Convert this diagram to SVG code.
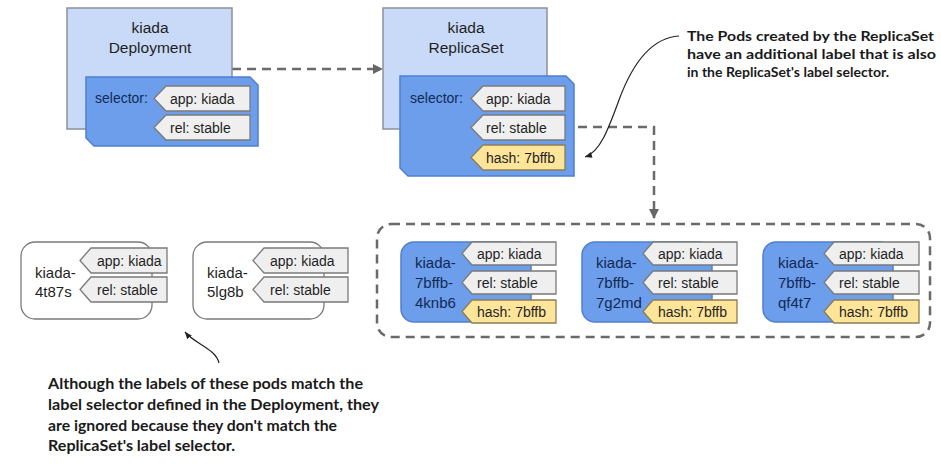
<svg xmlns="http://www.w3.org/2000/svg" width="941" height="464" viewBox="0 0 941 464">
<defs>
<marker id="ah" markerWidth="10" markerHeight="10" refX="9" refY="5" orient="auto" markerUnits="userSpaceOnUse"><path d="M0,0 L10,5 L0,10 Z" fill="#666"/></marker>
<marker id="sa" markerWidth="8" markerHeight="8" refX="7" refY="4" orient="auto" markerUnits="userSpaceOnUse"><path d="M0,1 L7,4 L0,7 Z" fill="#222"/></marker>
<style>
.obj{fill:#c9daf8;stroke:#8c9099;stroke-width:1.5}
.sel{fill:#6d9eeb;stroke:#4f7fcf;stroke-width:1.5}
.tag{fill:#efefef;stroke:#7a7a7a;stroke-width:1.3}
.hash{fill:#ffe599;stroke:#8a7d55;stroke-width:1.3}
.pod{fill:#6d9eeb;stroke:#4f7fcf;stroke-width:1.5}
.wpod{fill:#fff;stroke:#7a7a7a;stroke-width:1.3}
.t{font-family:"Liberation Sans",Arial,sans-serif;font-size:14px;fill:#1f1f1f}
.title{font-family:"Liberation Sans",Arial,sans-serif;font-size:15.5px;fill:#1f1f1f;text-anchor:middle}
.st{font-family:"Liberation Sans",Arial,sans-serif;font-size:14px;fill:#102a55}
.pt{font-family:"Liberation Sans",Arial,sans-serif;font-size:15px;fill:#102a55}
.wt{font-family:"Liberation Sans",Arial,sans-serif;font-size:15px;fill:#1f1f1f}
.note{font-family:Lato,"Noto Sans",sans-serif;font-weight:bold;fill:#1a1a1a}
.dash{fill:none;stroke:#6a6a6a;stroke-width:2.5;stroke-dasharray:9 6}
.curve{fill:none;stroke:#222;stroke-width:1.2}
</style>
</defs>

<g id="connectors">
<line class="dash" x1="232" y1="69" x2="382" y2="69" marker-end="url(#ah)"/>
<path class="dash" d="M578,127 H654 V218" marker-end="url(#ah)"/>
<path class="curve" d="M679,36 C648,38 630,70 619,100 C608,130 600,152 585,157" marker-end="url(#sa)"/>
<path class="curve" d="M219,363 C216,349 195,344 185,332" marker-end="url(#sa)"/>
</g>

<g id="deployment">
<rect class="obj" x="67" y="8" width="165" height="121"/>
<text class="title" x="150" y="33">kiada</text>
<text class="title" x="150" y="53">Deployment</text>
<path class="sel" d="M86,77 L250,77 L258,85 L258,146 L94,146 L86,138 Z"/>
<text class="st" x="95" y="103">selector:</text>
<path class="tag" d="M166,86 H250 V111 H166 L154,98.5 Z"/>
<text class="t" x="170" y="104">app: kiada</text>
<path class="tag" d="M166,115 H250 V140 H166 L154,127.5 Z"/>
<text class="t" x="170" y="133">rel: stable</text>
</g>

<g id="replicaset">
<rect class="obj" x="383" y="8" width="164" height="121"/>
<text class="title" x="466" y="33">kiada</text>
<text class="title" x="466" y="53">ReplicaSet</text>
<path class="sel" d="M400,76 L566,76 L574,84 L574,176 L408,176 L400,168 Z"/>
<text class="st" x="410" y="103">selector:</text>
<path class="tag" d="M483,86 H565 V111 H483 L471,98.5 Z"/>
<text class="t" x="486" y="104">app: kiada</text>
<path class="tag" d="M483,115 H565 V140 H483 L471,127.5 Z"/>
<text class="t" x="486" y="133">rel: stable</text>
<path class="hash" d="M483,145 H565 V170 H483 L471,157.5 Z"/>
<text class="t" x="486" y="163">hash: 7bffb</text>
</g>

<g id="note-top">
<text class="note" font-size="14"><tspan x="687" y="41" textLength="247" lengthAdjust="spacingAndGlyphs">The Pods created by the ReplicaSet</tspan><tspan x="687" y="59" textLength="249" lengthAdjust="spacingAndGlyphs">have an additional label that is also</tspan><tspan x="687" y="77" textLength="202" lengthAdjust="spacingAndGlyphs">in the ReplicaSet's label selector.</tspan></text>
</g>

<g id="pod-group">
<rect class="dash" x="377" y="224" width="553" height="113" rx="14"/>
</g>

<g id="pod-4knb6">
<rect class="pod" x="401" y="242" width="130" height="80" rx="13"/>
<text class="pt"><tspan x="415" y="268">kiada-</tspan><tspan x="415" y="288">7bffb-</tspan><tspan x="415" y="308">4knb6</tspan></text>
<path class="tag" d="M472,242 H556 V265 H472 L462,253.5 Z"/>
<text class="t" x="477" y="259">app: kiada</text>
<path class="tag" d="M472,271 H556 V294 H472 L462,282.5 Z"/>
<text class="t" x="477" y="288">rel: stable</text>
<path class="hash" d="M472,300 H556 V323 H472 L462,311.5 Z"/>
<text class="t" x="477" y="317">hash: 7bffb</text>
</g>

<g id="pod-7g2md">
<rect class="pod" x="582" y="242" width="130" height="80" rx="13"/>
<text class="pt"><tspan x="596" y="268">kiada-</tspan><tspan x="596" y="288">7bffb-</tspan><tspan x="596" y="308">7g2md</tspan></text>
<path class="tag" d="M653,242 H737 V265 H653 L643,253.5 Z"/>
<text class="t" x="658" y="259">app: kiada</text>
<path class="tag" d="M653,271 H737 V294 H653 L643,282.5 Z"/>
<text class="t" x="658" y="288">rel: stable</text>
<path class="hash" d="M653,300 H737 V323 H653 L643,311.5 Z"/>
<text class="t" x="658" y="317">hash: 7bffb</text>
</g>

<g id="pod-qf4t7">
<rect class="pod" x="763" y="242" width="130" height="80" rx="13"/>
<text class="pt"><tspan x="778" y="268">kiada-</tspan><tspan x="778" y="288">7bffb-</tspan><tspan x="778" y="308">qf4t7</tspan></text>
<path class="tag" d="M834,242 H919 V265 H834 L824,253.5 Z"/>
<text class="t" x="839" y="259">app: kiada</text>
<path class="tag" d="M834,271 H919 V294 H834 L824,282.5 Z"/>
<text class="t" x="839" y="288">rel: stable</text>
<path class="hash" d="M834,300 H919 V323 H834 L824,311.5 Z"/>
<text class="t" x="839" y="317">hash: 7bffb</text>
</g>

<g id="pod-4t87s">
<rect class="wpod" x="21" y="242" width="131" height="77" rx="14"/>
<text class="wt"><tspan x="35" y="278">kiada-</tspan><tspan x="35" y="297">4t87s</tspan></text>
<path class="tag" d="M91,248 H167 V273 H91 L80,260.5 Z"/>
<text class="t" x="97" y="266">app: kiada</text>
<path class="tag" d="M91,277 H167 V302 H91 L80,289.5 Z"/>
<text class="t" x="97" y="295">rel: stable</text>
</g>

<g id="pod-5lg8b">
<rect class="wpod" x="193" y="242" width="131" height="77" rx="14"/>
<text class="wt"><tspan x="207" y="278">kiada-</tspan><tspan x="207" y="297">5lg8b</tspan></text>
<path class="tag" d="M264,248 H348 V273 H264 L253,260.5 Z"/>
<text class="t" x="270" y="266">app: kiada</text>
<path class="tag" d="M264,277 H348 V302 H264 L253,289.5 Z"/>
<text class="t" x="270" y="295">rel: stable</text>
</g>

<g id="note-bottom">
<text class="note" font-size="16"><tspan x="48" y="389" textLength="315" lengthAdjust="spacingAndGlyphs">Although the labels of these pods match the</tspan><tspan x="48" y="410" textLength="331" lengthAdjust="spacingAndGlyphs">label selector defined in the Deployment, they</tspan><tspan x="48" y="431" textLength="289" lengthAdjust="spacingAndGlyphs">are ignored because they don't match the</tspan><tspan x="48" y="451" textLength="187" lengthAdjust="spacingAndGlyphs">ReplicaSet's label selector.</tspan></text>
</g>
</svg>
